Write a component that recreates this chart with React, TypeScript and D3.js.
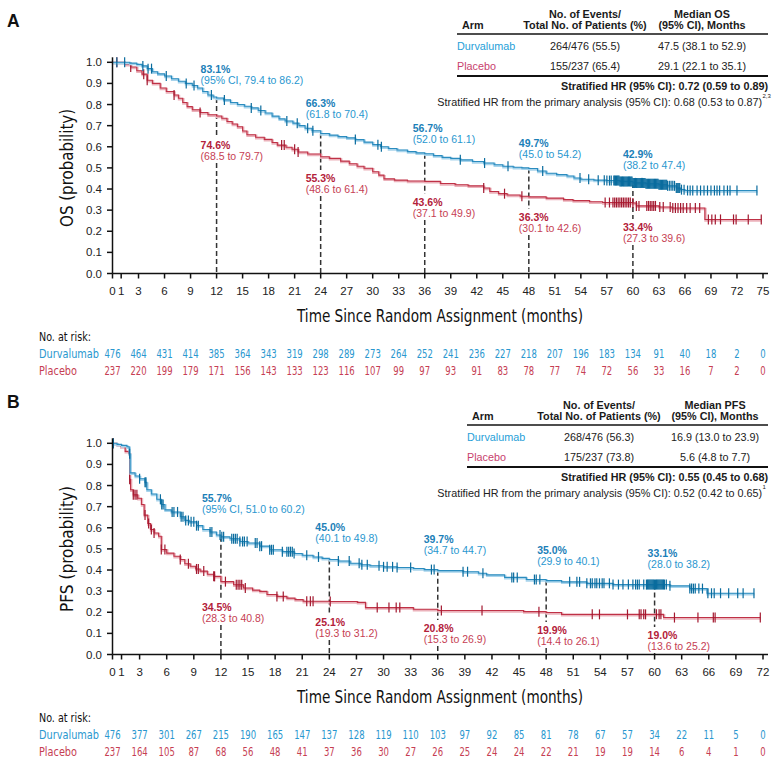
import React from 'react';
import * as d3 from 'd3';

const SANS = "'Liberation Sans', Arial, Helvetica, sans-serif";
const NARROW = "'Liberation Sans Narrow', 'Arial Narrow', 'DejaVu Sans Condensed', sans-serif";

const BLUE_LINE = '#2b8cbf';
const BLUE_HALO = '#a8d4ec';
const BLUE_TICK = '#0a6c9e';
const BLUE_TEXT = '#2997cf';
const BLUE_BOLD = '#1b80b8';
const RED_LINE = '#bf3146';
const RED_HALO = '#ebb1ba';
const RED_TICK = '#a3182f';
const RED_TEXT = '#c63e53';
const RED_BOLD = '#b3213a';
const ARM_BLUE = '#26a0d8';
const ARM_RED = '#c83f6d';

type Step = [number, number];

// ---- Overall survival (panel A) ----
const osDurva: Step[] = [
  [0, 1], [2.0, 0.996], [2.8, 0.99], [3.4, 0.983], [4.0, 0.97], [4.6, 0.955], [5.2, 0.945],
  [6.0, 0.935], [6.8, 0.922], [7.6, 0.91], [8.4, 0.9], [9.2, 0.89], [9.8, 0.878], [10.4, 0.862],
  [11.0, 0.845], [11.6, 0.836], [12.0, 0.831], [12.8, 0.822], [13.6, 0.81], [14.4, 0.8],
  [15.2, 0.792], [16.0, 0.784], [16.8, 0.772], [17.6, 0.76], [18.4, 0.745], [19.2, 0.732],
  [19.9, 0.722], [20.8, 0.712], [21.5, 0.7], [22.2, 0.688], [23.0, 0.676], [24.0, 0.663],
  [25.0, 0.655], [26.0, 0.648], [27.0, 0.642], [28.0, 0.634], [29.0, 0.622], [30.0, 0.61],
  [30.9, 0.6], [31.8, 0.592], [32.8, 0.585], [34.0, 0.577], [35.0, 0.571], [36.0, 0.567],
  [37.0, 0.558], [38.0, 0.55], [39.0, 0.545], [40.1, 0.538], [41.5, 0.53], [42.8, 0.523],
  [44.0, 0.515], [45.0, 0.508], [46.2, 0.503], [47.2, 0.5], [48.0, 0.497], [49.0, 0.485],
  [50.0, 0.475], [51.2, 0.468], [52.4, 0.462], [53.2, 0.452], [54.0, 0.446], [55.5, 0.442],
  [57.0, 0.44], [58.5, 0.436], [60.0, 0.429], [61.5, 0.425], [63.0, 0.42], [64.0, 0.415],
  [65.0, 0.405], [65.5, 0.397], [66.0, 0.393], [74.3, 0.393],
];

const osPlacebo: Step[] = [
  [0, 1], [1.5, 0.99], [2.1, 0.978], [2.8, 0.96], [3.4, 0.944], [4.0, 0.915], [4.6, 0.9],
  [5.5, 0.878], [6.2, 0.862], [7.1, 0.845], [7.6, 0.83], [8.1, 0.81], [8.6, 0.79], [9.2, 0.775],
  [10.1, 0.762], [11.0, 0.752], [12.0, 0.746], [12.6, 0.735], [13.2, 0.72], [13.8, 0.708],
  [14.4, 0.695], [15.0, 0.675], [15.5, 0.657], [16.5, 0.645], [17.5, 0.635], [18.4, 0.62],
  [19.0, 0.608], [20.0, 0.598], [20.7, 0.588], [21.4, 0.575], [22.5, 0.566], [24.0, 0.553],
  [25.0, 0.545], [26.3, 0.532], [27.3, 0.52], [28.2, 0.508], [29.0, 0.498], [30.0, 0.482],
  [30.7, 0.466], [31.3, 0.448], [32.5, 0.442], [34.0, 0.438], [36.0, 0.436], [37.8, 0.426],
  [39.5, 0.42], [41.0, 0.415], [42.8, 0.405], [43.5, 0.388], [44.5, 0.378], [45.5, 0.372],
  [47.0, 0.366], [48.0, 0.363], [50.0, 0.357], [52.0, 0.35], [53.1, 0.345], [55.0, 0.34],
  [56.5, 0.336], [60.0, 0.334], [60.4, 0.32], [63.0, 0.315], [64.5, 0.31], [68.3, 0.256],
  [74.8, 0.256],
];

const osDurvaCensored = [
  0.5, 1.4, 3.5, 4.1, 4.5, 6.2, 8.5, 9.4, 11.4, 12.9, 16.0, 17.1, 20.1, 21.3, 22.5, 23.1, 28.0,
  30.6, 31.0, 40.1, 42.9, 45.6, 49.6, 53.9, 54.9, 56.0, 56.7, 57.0, 57.3, 57.5, 57.8, 57.9, 58.0,
  58.1, 58.2, 58.3, 58.4, 58.5, 58.6, 58.7, 58.8, 58.9, 59.0, 59.1, 59.2, 59.3, 59.4, 59.5, 59.6,
  59.7, 59.8, 59.9, 60.0, 60.1, 60.2, 60.3, 60.4, 60.5, 60.6, 60.7, 60.8, 60.9, 61.0, 61.1, 61.2,
  61.3, 61.4, 61.5, 61.6, 61.7, 61.8, 61.9, 62.0, 62.1, 62.2, 62.3, 62.4, 62.5, 62.6, 62.7, 62.8,
  62.9, 63.0, 63.1, 63.2, 63.3, 63.4, 63.5, 63.6, 63.7, 63.8, 63.9, 64.0, 64.2, 64.4, 64.6, 64.8,
  65.0, 65.1, 65.2, 65.3, 65.4, 65.6, 65.9, 66.3, 66.6, 66.9, 67.4, 67.8, 68.2, 68.6, 69.0, 69.4,
  69.7, 70.0, 70.5, 70.9, 71.2, 72.0, 74.3,
];

const osPlaceboCensored = [
  0.5, 2.1, 3.6, 4.0, 7.1, 10.1, 19.5, 19.8, 21.0, 21.4, 42.8, 45.2, 47.2, 56.8, 57.3, 57.7,
  57.9, 58.1, 58.3, 58.5, 58.7, 58.9, 59.1, 59.3, 59.5, 59.7, 60.0, 60.4, 60.7, 61.6, 61.8, 62.0,
  62.2, 62.4, 62.6, 63.1, 63.5, 64.3, 64.6, 64.9, 65.2, 65.5, 65.8, 66.2, 66.6, 67.2, 67.7, 68.7,
  69.1, 69.5, 70.1, 71.6, 71.9, 73.3, 74.8,
];

// ---- Progression-free survival (panel B) ----
const pfsDurva: Step[] = [
  [0, 1], [0.5, 0.995], [1.0, 0.99], [1.6, 0.984], [1.85, 0.95], [1.95, 0.86], [2.5, 0.845],
  [3.0, 0.832], [3.6, 0.815], [3.8, 0.78], [4.3, 0.76], [4.9, 0.735], [5.4, 0.71], [5.8, 0.685],
  [6.5, 0.675], [7.5, 0.652], [8.0, 0.635], [8.5, 0.628], [9.3, 0.61], [10.0, 0.592],
  [10.8, 0.58], [11.5, 0.566], [12.0, 0.557], [13.0, 0.548], [14.1, 0.535], [15.0, 0.528],
  [16.3, 0.513], [17.4, 0.496], [18.8, 0.487], [20.1, 0.478], [21.0, 0.47], [22.2, 0.462],
  [23.2, 0.455], [24.0, 0.45], [25.0, 0.443], [26.3, 0.432], [27.5, 0.425], [28.5, 0.42],
  [30.0, 0.415], [31.5, 0.412], [33.3, 0.407], [34.5, 0.402], [36.0, 0.397], [38.8, 0.392],
  [40.5, 0.385], [41.4, 0.377], [43.4, 0.365], [45.8, 0.355], [48.0, 0.35], [49.7, 0.344],
  [52.5, 0.337], [55.4, 0.331], [61.7, 0.325], [63.9, 0.312], [65.8, 0.29], [71.0, 0.29],
];

const pfsPlacebo: Step[] = [
  [0, 1], [0.5, 0.993], [0.9, 0.985], [1.4, 0.962], [1.8, 0.953], [1.9, 0.83], [2.0, 0.78],
  [2.3, 0.756], [2.8, 0.74], [3.2, 0.71], [3.5, 0.66], [3.9, 0.62], [4.2, 0.592], [4.6, 0.575],
  [5.1, 0.56], [5.4, 0.497], [6.0, 0.48], [6.8, 0.465], [7.5, 0.45], [8.0, 0.43], [8.6, 0.418],
  [9.2, 0.405], [9.7, 0.395], [10.5, 0.38], [11.2, 0.37], [12.0, 0.345], [13.4, 0.33],
  [14.5, 0.315], [15.5, 0.305], [16.3, 0.299], [17.1, 0.284], [18.2, 0.275], [19.3, 0.267],
  [20.2, 0.26], [21.1, 0.252], [24.0, 0.251], [27.1, 0.247], [28.0, 0.222], [33.3, 0.214],
  [36.0, 0.208], [45.5, 0.203], [48.0, 0.199], [49.7, 0.19], [61.0, 0.175], [71.7, 0.175],
];

const pfsDurvaCensored = [
  0.1, 1.9, 3.0, 3.6, 3.7, 5.3, 5.45, 5.6, 6.6, 6.8, 7.2, 7.6, 7.8, 8.1, 8.4, 8.7, 9.0, 9.3, 9.5,
  10.8, 11.0, 11.9, 12.1, 12.3, 13.2, 13.4, 13.6, 13.8, 14.1, 14.4, 14.6, 14.9, 15.8, 16.0, 16.3,
  16.5, 17.4, 17.6, 17.8, 18.8, 19.3, 19.5, 19.7, 19.9, 20.1, 21.5, 22.8, 25.0, 26.2, 27.3, 27.6,
  28.2, 29.5, 30.0, 30.4, 31.0, 31.5, 33.0, 35.3, 35.6, 38.8, 39.3, 41.0, 44.2, 44.4, 44.8, 46.7,
  46.9, 47.3, 50.6, 51.4, 51.7, 52.5, 52.9, 53.1, 53.4, 53.6, 53.9, 54.2, 54.4, 55.0, 55.4, 56.0,
  56.5, 57.1, 57.6, 57.9, 58.1, 58.3, 58.8, 59.1, 59.2, 59.3, 59.4, 59.5, 59.6, 59.7, 59.8, 59.9,
  60.0, 60.1, 60.2, 60.3, 60.4, 60.5, 60.6, 60.7, 60.8, 60.9, 61.0, 61.1, 61.3, 61.7, 63.9, 64.1,
  64.3, 64.5, 64.9, 65.3, 65.9, 66.3, 66.6, 67.3, 68.2, 69.2, 69.8, 71.0,
];

const pfsPlaceboCensored = [
  0.1, 1.9, 2.3, 2.5, 2.7, 3.6, 4.0, 4.3, 4.6, 5.4, 5.8, 7.5, 8.4, 9.3, 9.5, 10.1, 11.2, 11.3,
  12.5, 13.7, 13.9, 14.1, 14.3, 14.7, 18.2, 18.9, 21.5, 21.9, 22.2, 24.1, 29.3, 30.6, 31.4, 31.8,
  36.4, 40.9, 47.2, 53.1, 53.9, 57.0, 58.3, 58.5, 58.8, 59.0, 60.2, 60.5, 60.7, 62.2, 64.8, 66.5,
  66.7, 71.7,
];

// landmark estimates at 12, 24, 36, 48 and 60 months
const osLandmarkMonths = [12, 24, 36, 48, 60];
const osLandmarkDurva = [0.831, 0.663, 0.567, 0.497, 0.429];
const osLandmarkDurvaCI: [number, number][] = [[79.4, 86.2], [61.8, 70.4], [52.0, 61.1], [45.0, 54.2], [38.2, 47.4]];
const osLandmarkPlacebo = [0.746, 0.553, 0.436, 0.363, 0.334];
const osLandmarkPlaceboCI: [number, number][] = [[68.5, 79.7], [48.6, 61.4], [37.1, 49.9], [30.1, 42.6], [27.3, 39.6]];

const pfsLandmarkMonths = [12, 24, 36, 48, 60];
const pfsLandmarkDurva = [0.557, 0.45, 0.397, 0.35, 0.331];
const pfsLandmarkDurvaCI: [number, number][] = [[51.0, 60.2], [40.1, 49.8], [34.7, 44.7], [29.9, 40.1], [28.0, 38.2]];
const pfsLandmarkPlacebo = [0.345, 0.251, 0.208, 0.199, 0.19];
const pfsLandmarkPlaceboCI: [number, number][] = [[28.3, 40.8], [19.3, 31.2], [15.3, 26.9], [14.4, 26.1], [13.6, 25.2]];

// number at risk, every 3 months
const osRiskDurva = [476, 464, 431, 414, 385, 364, 343, 319, 298, 289, 273, 264, 252, 241, 236, 227, 218, 207, 196, 183, 134, 91, 40, 18, 2, 0];
const osRiskPlacebo = [237, 220, 199, 179, 171, 156, 143, 133, 123, 116, 107, 99, 97, 93, 91, 83, 78, 77, 74, 72, 56, 33, 16, 7, 2, 0];
const pfsRiskDurva = [476, 377, 301, 267, 215, 190, 165, 147, 137, 128, 119, 110, 103, 97, 92, 85, 81, 78, 67, 57, 34, 22, 11, 5, 0];
const pfsRiskPlacebo = [237, 164, 105, 87, 68, 56, 48, 41, 37, 36, 30, 27, 26, 25, 24, 24, 22, 21, 19, 19, 14, 6, 4, 1, 0];

const osTicks = [0, 1, 3, 6, 9, 12, 15, 18, 21, 24, 27, 30, 33, 36, 39, 42, 45, 48, 51, 54, 57, 60, 63, 66, 69, 72, 75];
const pfsTicks = [0, 1, 3, 6, 9, 12, 15, 18, 21, 24, 27, 30, 33, 36, 39, 42, 45, 48, 51, 54, 57, 60, 63, 66, 69, 72];
const yTicks = [0, 0.1, 0.2, 0.3, 0.4, 0.5, 0.6, 0.7, 0.8, 0.9, 1.0];

const osTable = {
  header: ['No. of Events/', 'Total No. of Patients (%)', 'Median OS', '(95% CI), Months'],
  durva: ['264/476 (55.5)', '47.5 (38.1 to 52.9)'],
  placebo: ['155/237 (65.4)', '29.1 (22.1 to 35.1)'],
  hr: 'Stratified HR (95% CI): 0.72 (0.59 to 0.89)',
  primary: 'Stratified HR from the primary analysis (95% CI): 0.68 (0.53 to 0.87)',
  sup: '2,3',
};
const pfsTable = {
  header: ['No. of Events/', 'Total No. of Patients (%)', 'Median PFS', '(95% CI), Months'],
  durva: ['268/476 (56.3)', '16.9 (13.0 to 23.9)'],
  placebo: ['175/237 (73.8)', '5.6 (4.8 to 7.7)'],
  hr: 'Stratified HR (95% CI): 0.55 (0.45 to 0.68)',
  primary: 'Stratified HR from the primary analysis (95% CI): 0.52 (0.42 to 0.65)',
  sup: '1',
};

// label placement next to each landmark line
const osLabelLayout = [
  { dx: -16, blueY: 69, redY: 145 },
  { dx: -15, blueY: 103, redY: 178 },
  { dx: -12, blueY: 128, redY: 202 },
  { dx: -10, blueY: 143, redY: 217 },
  { dx: -10, blueY: 154, redY: 227 },
];
const pfsLabelLayout = [
  { dx: -19, blueY: 498, redY: 607 },
  { dx: -14, blueY: 527, redY: 622 },
  { dx: -14, blueY: 539, redY: 628 },
  { dx: -9, blueY: 550, redY: 630 },
  { dx: -7, blueY: 553, redY: 635 },
];

const survivalAt = (steps: Step[], t: number) => {
  let v = steps[0][1];
  for (const [m, s] of steps) {
    if (m <= t) v = s;
    else break;
  }
  return v;
};

const pct = (v: number) => `${(v * 100).toFixed(1)}%`;

type TableData = typeof osTable;

function SummaryTable({ data, top, left, armX, col2, col3 }: { data: TableData; top: number; left: number; armX: number; col2: number; col3: number }) {
  const right = 768;
  return (
    <g fontFamily={SANS} fontSize={10.8}>
      <g fontWeight="bold" fill="#1a1a1a" textAnchor="middle" dominantBaseline="central">
        <text x={armX} y={top + 11} textAnchor="start">Arm</text>
        <text x={col2} y={top}>{data.header[0]}</text>
        <text x={col2} y={top + 11}>{data.header[1]}</text>
        <text x={col3} y={top}>{data.header[2]}</text>
        <text x={col3} y={top + 11}>{data.header[3]}</text>
      </g>
      <line x1={left} x2={right} y1={top + 20} y2={top + 20} stroke="#4d4d4d" strokeWidth={2} />
      <g dominantBaseline="central" fill="#222">
        <text x={left} y={top + 32} fill={ARM_BLUE}>Durvalumab</text>
        <text x={col2} y={top + 32} textAnchor="middle">{data.durva[0]}</text>
        <text x={col3} y={top + 32} textAnchor="middle">{data.durva[1]}</text>
        <text x={left} y={top + 52} fill={ARM_RED}>Placebo</text>
        <text x={col2} y={top + 52} textAnchor="middle">{data.placebo[0]}</text>
        <text x={col3} y={top + 52} textAnchor="middle">{data.placebo[1]}</text>
      </g>
      <line x1={left} x2={right} y1={top + 62} y2={top + 62} stroke="#111" strokeWidth={2} />
      <text x={right} y={top + 71.5} textAnchor="end" fontWeight="bold" dominantBaseline="central" fill="#1a1a1a">{data.hr}</text>
      <text x={right - 6} y={top + 87.5} textAnchor="end" dominantBaseline="central" fill="#222">{data.primary}</text>
      <text x={right - 5.5} y={top + 84} fontSize={6} fill="#222">{data.sup}</text>
    </g>
  );
}

interface PanelProps {
  letter: string;
  top: number;
  bottom: number;
  xMax: number;
  ticks: number[];
  durva: Step[];
  placebo: Step[];
  durvaCens: number[];
  placeboCens: number[];
  lmMonths: number[];
  lmDurva: number[];
  lmDurvaCI: [number, number][];
  lmPlacebo: number[];
  lmPlaceboCI: [number, number][];
  layout: { dx: number; blueY: number; redY: number }[];
  yTitle: string;
  yTitleLength: number;
  riskDurva: number[];
  riskPlacebo: number[];
}

function KMPanel(p: PanelProps) {
  const x = d3.scaleLinear().domain([0, p.xMax]).range([112.5, 763]);
  const y = d3.scaleLinear().domain([0, 1]).range([p.bottom, p.top]);
  const line = d3.line<Step>().x(d => x(d[0])).y(d => y(d[1])).curve(d3.curveStepAfter);
  const riskMonths = p.ticks.filter(t => t % 3 === 0);

  const curve = (steps: Step[], cens: number[], color: string, halo: string, tick: string) => (
    <g>
      <path d={line(steps) || ''} fill="none" stroke={halo} strokeWidth={2.4} transform="translate(0.6,1)" />
      <path d={line(steps) || ''} fill="none" stroke={color} strokeWidth={1.1} />
      {cens.map((t, i) => {
        const cy = y(survivalAt(steps, t));
        return <line key={i} x1={x(t)} x2={x(t)} y1={cy - 5} y2={cy + 5} stroke={tick} strokeWidth={1.2} />;
      })}
    </g>
  );

  // condensed look for the at-risk figures
  const numLen = (n: number) => String(n).length * 5.4;

  return (
    <g>
      <text x={7} y={p.top - 35.5} fontFamily={SANS} fontWeight="bold" fontSize={17.5} fill="#111">{p.letter}</text>

      {/* landmark guides, broken where the placebo labels sit */}
      {p.lmMonths.map((m, i) => {
        const lx = x(m);
        const lay = p.layout[i];
        return (
          <g key={m} stroke="#333" strokeWidth={1.5} strokeDasharray="5,3">
            <line x1={lx} x2={lx} y1={y(p.lmDurva[i])} y2={lay.redY - 8} />
            <line x1={lx} x2={lx} y1={lay.redY + 18} y2={p.bottom} />
          </g>
        );
      })}

      {curve(p.placebo, p.placeboCens, RED_LINE, RED_HALO, RED_TICK)}
      {curve(p.durva, p.durvaCens, BLUE_LINE, BLUE_HALO, BLUE_TICK)}

      {/* landmark labels */}
      <g fontFamily={SANS} fontSize={10.5} dominantBaseline="central">
        {p.lmMonths.map((m, i) => {
          const lx = x(m) + p.layout[i].dx;
          const lay = p.layout[i];
          const dci = p.lmDurvaCI[i];
          const pci = p.lmPlaceboCI[i];
          return (
            <g key={m}>
              <text x={lx} y={lay.blueY} fontWeight="bold" fill={BLUE_BOLD}>{pct(p.lmDurva[i])}</text>
              <text x={lx} y={lay.blueY + 11} fill={BLUE_TEXT}>
                {i === 0 ? `(95% CI, ${dci[0].toFixed(1)} to ${dci[1].toFixed(1)})` : `(${dci[0].toFixed(1)} to ${dci[1].toFixed(1)})`}
              </text>
              <text x={lx} y={lay.redY} fontWeight="bold" fill={RED_BOLD}>{pct(p.lmPlacebo[i])}</text>
              <text x={lx} y={lay.redY + 11} fill={RED_TEXT}>{`(${pci[0].toFixed(1)} to ${pci[1].toFixed(1)})`}</text>
            </g>
          );
        })}
      </g>

      {/* axes */}
      <g stroke="#111" strokeWidth={1.5}>
        <line x1={112.5} x2={112.5} y1={p.top - 5} y2={p.bottom} />
        <line x1={112.5} x2={768} y1={p.bottom} y2={p.bottom} />
        {yTicks.map(t => <line key={t} x1={107} x2={112.5} y1={y(t)} y2={y(t)} />)}
        {p.ticks.map(t => <line key={t} x1={x(t)} x2={x(t)} y1={p.bottom} y2={p.bottom + 5} />)}
      </g>
      <g fontFamily={SANS} fontSize={11.5} fill="#222" dominantBaseline="central">
        {yTicks.map(t => <text key={t} x={102} y={y(t)} textAnchor="end">{t.toFixed(1)}</text>)}
        {p.ticks.map(t => <text key={t} x={x(t)} y={p.bottom + 17.5} textAnchor="middle">{t}</text>)}
      </g>
      <text x={0} y={0} transform={`translate(67,${(p.top + p.bottom) / 2}) rotate(-90)`} textAnchor="middle"
        dominantBaseline="central" fontFamily={NARROW} fontSize={17} fill="#111"
        textLength={p.yTitleLength} lengthAdjust="spacingAndGlyphs">{p.yTitle}</text>
      <text x={440} y={p.bottom + 42.5} textAnchor="middle" dominantBaseline="central" fontFamily={NARROW}
        fontSize={17} fill="#111" textLength={286} lengthAdjust="spacingAndGlyphs">Time Since Random Assignment (months)</text>

      {/* number at risk */}
      <g fontFamily={NARROW} fontSize={12} dominantBaseline="central">
        <text x={39} y={p.bottom + 63} fill="#111" textLength={52} lengthAdjust="spacingAndGlyphs">No. at risk:</text>
        <text x={39} y={p.bottom + 80} fill={BLUE_TEXT} textLength={60} lengthAdjust="spacingAndGlyphs">Durvalumab</text>
        <text x={39} y={p.bottom + 97} fill={RED_TEXT} textLength={38} lengthAdjust="spacingAndGlyphs">Placebo</text>
        {p.riskDurva.map((n, i) => (
          <text key={`d${i}`} x={x(riskMonths[i])} y={p.bottom + 80} textAnchor="middle" fill={BLUE_TEXT}
            textLength={numLen(n)} lengthAdjust="spacingAndGlyphs">{n}</text>
        ))}
        {p.riskPlacebo.map((n, i) => (
          <text key={`p${i}`} x={x(riskMonths[i])} y={p.bottom + 97} textAnchor="middle" fill={RED_TEXT}
            textLength={numLen(n)} lengthAdjust="spacingAndGlyphs">{n}</text>
        ))}
      </g>
    </g>
  );
}

export default function App() {
  return (
    <svg width={780} height={764} viewBox="0 0 780 764" style={{ position: 'absolute', left: 0, top: 0, background: '#fff' }}>
      <rect width={780} height={764} fill="#fff" />
      <KMPanel
        letter="A" top={62.3} bottom={273.5} xMax={75} ticks={osTicks}
        durva={osDurva} placebo={osPlacebo} durvaCens={osDurvaCensored} placeboCens={osPlaceboCensored}
        lmMonths={osLandmarkMonths} lmDurva={osLandmarkDurva} lmDurvaCI={osLandmarkDurvaCI}
        lmPlacebo={osLandmarkPlacebo} lmPlaceboCI={osLandmarkPlaceboCI} layout={osLabelLayout}
        yTitle="OS (probability)" yTitleLength={118} riskDurva={osRiskDurva} riskPlacebo={osRiskPlacebo}
      />
      <SummaryTable data={osTable} top={14} left={457} armX={462} col2={585} col3={702} />
      <KMPanel
        letter="B" top={443.3} bottom={654.5} xMax={72} ticks={pfsTicks}
        durva={pfsDurva} placebo={pfsPlacebo} durvaCens={pfsDurvaCensored} placeboCens={pfsPlaceboCensored}
        lmMonths={pfsLandmarkMonths} lmDurva={pfsLandmarkDurva} lmDurvaCI={pfsLandmarkDurvaCI}
        lmPlacebo={pfsLandmarkPlacebo} lmPlaceboCI={pfsLandmarkPlaceboCI} layout={pfsLabelLayout}
        yTitle="PFS (probability)" yTitleLength={126} riskDurva={pfsRiskDurva} riskPlacebo={pfsRiskPlacebo}
      />
      <SummaryTable data={pfsTable} top={405} left={467} armX={472} col2={599} col3={715} />
    </svg>
  );
}
